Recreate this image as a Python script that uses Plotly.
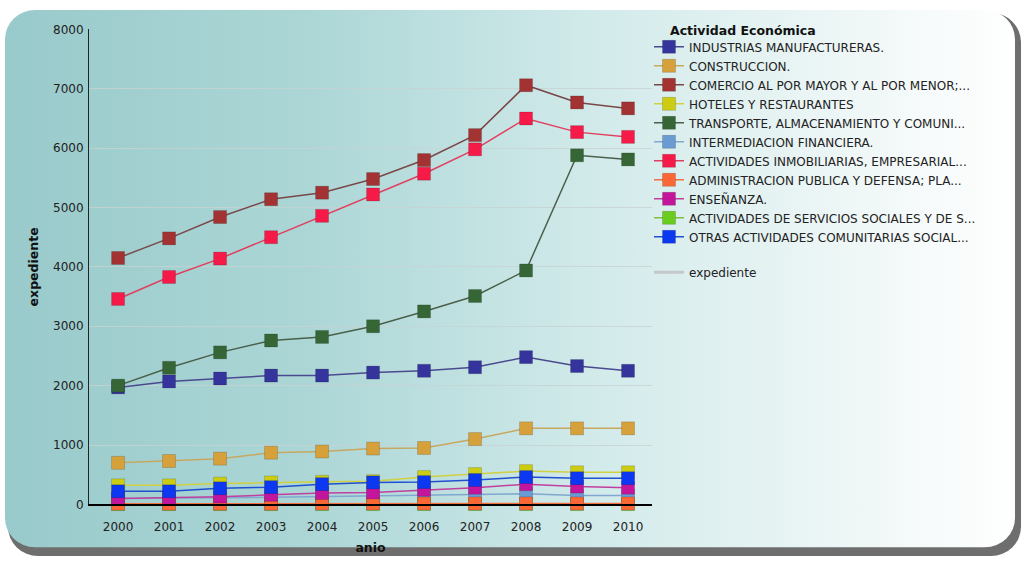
import base64
import plotly.graph_objects as go

years = [2000, 2001, 2002, 2003, 2004, 2005, 2006, 2007, 2008, 2009, 2010]

industrias = [1970, 2070, 2120, 2170, 2170, 2220, 2250, 2310, 2480, 2330, 2250]
construccion = [700, 730, 770, 870, 890, 940, 950, 1100, 1280, 1280, 1280]
comercio = [4150, 4480, 4840, 5140, 5250, 5480, 5800, 6220, 7060, 6770, 6670]
hoteles = [320, 320, 350, 370, 380, 390, 460, 510, 560, 540, 540]
transporte = [2000, 2300, 2560, 2760, 2820, 3000, 3250, 3510, 3940, 5880, 5810]
intermediacion = [100, 100, 110, 120, 130, 140, 150, 165, 180, 150, 150]
inmobiliarias = [3460, 3830, 4140, 4500, 4860, 5220, 5570, 5980, 6500, 6270, 6190]
administracion = [10, 10, 10, 10, 15, 15, 15, 15, 15, 15, 15]
ensenanza = [100, 110, 130, 160, 190, 200, 245, 280, 340, 300, 280]
servicios = [5, 5, 5, 5, 5, 5, 5, 5, 5, 5, 5]
otras = [220, 220, 270, 290, 340, 370, 375, 410, 460, 440, 440]

names = [
    "INDUSTRIAS MANUFACTURERAS.",
    "CONSTRUCCION.",
    "COMERCIO AL POR MAYOR Y AL POR MENOR;...",
    "HOTELES Y RESTAURANTES",
    "TRANSPORTE, ALMACENAMIENTO Y COMUNI...",
    "INTERMEDIACION FINANCIERA.",
    "ACTIVIDADES INMOBILIARIAS, EMPRESARIAL...",
    "ADMINISTRACION PUBLICA Y DEFENSA; PLA...",
    "ENSEÑANZA.",
    "ACTIVIDADES DE SERVICIOS SOCIALES Y DE S...",
    "OTRAS ACTIVIDADES COMUNITARIAS SOCIAL...",
]
series = [industrias, construccion, comercio, hoteles, transporte, intermediacion,
          inmobiliarias, administracion, ensenanza, servicios, otras]
colors = ["#34349c", "#d6a03a", "#a33232", "#cccc10", "#366636", "#6a9bd2",
          "#f51a48", "#fb6836", "#c4169c", "#6acc1e", "#0c38f2"]
lines = ["#4a4a90", "#c8a860", "#7a4848", "#d0d040", "#4a604a", "#80a8d0",
         "#e04060", "#f07040", "#c040a0", "#80c040", "#2050d0"]

# drawing order (servicios drawn before administracion so it stays hidden beneath)
draw_order = [0, 1, 2, 3, 4, 5, 6, 9, 7, 8, 10]

fig = go.Figure()
for i in draw_order:
    fig.add_trace(go.Scatter(
        x=years, y=series[i], name=names[i], mode="lines+markers",
        legendrank=i + 1,
        line=dict(color=lines[i], width=1.5),
        marker=dict(symbol="square", size=13, color=colors[i],
                    line=dict(color="rgba(0,0,0,0.15)", width=1)),
        cliponaxis=False,
    ))

fig.add_trace(go.Scatter(
    x=[None], y=[None], name="expediente", mode="lines",
    line=dict(color="#c4c8c8", width=3), legend="legend2",
))

svg = """<svg xmlns='http://www.w3.org/2000/svg' width='1022' height='565' viewBox='0 0 1022 565'>
<defs><linearGradient id='g' x1='0' y1='0' x2='1' y2='0'>
<stop offset='0' stop-color='#99cacb'/>
<stop offset='0.3' stop-color='#acd6d6'/>
<stop offset='0.6' stop-color='#d4ebeb'/>
<stop offset='0.85' stop-color='#f0f7f7'/>
<stop offset='1' stop-color='#ffffff'/>
</linearGradient></defs>
<rect x='0' y='0' width='1022' height='565' fill='#ffffff'/>
<rect x='8' y='6' width='1013' height='557' rx='30' ry='30' fill='#6e6e6e'/>
<rect x='5' y='3' width='1010' height='551' rx='30' ry='30' fill='url(#g)'/>
</svg>"""
src = "data:image/svg+xml;base64," + base64.b64encode(svg.encode()).decode()

W, H = 1022, 565
FONT = "DejaVu Sans, Verdana, sans-serif"
fig.update_layout(
    width=W, height=H,
    margin=dict(l=0, r=0, t=0, b=0),
    paper_bgcolor="white",
    plot_bgcolor="rgba(0,0,0,0)",
    font=dict(family=FONT, size=12, color="#222222"),
    images=[dict(source=src, xref="paper", yref="paper", x=0, y=1, sizex=1, sizey=1,
                 xanchor="left", yanchor="top", sizing="stretch", layer="below")],
    xaxis=dict(
        domain=[89 / W, 652 / W], range=[1999.43, 2010.47],
        tickmode="array", tickvals=years, ticktext=[str(y) for y in years],
        showgrid=False, zeroline=False, showline=True, linecolor="#000000", linewidth=2,
        ticks="", ticklabelstandoff=10, tickfont=dict(size=12, color="#222222"),
        title=dict(text="<b>anio</b>", font=dict(size=12.5, color="#111111"), standoff=10),
    ),
    yaxis=dict(
        domain=[(H - 510) / H, (H - 23) / H], range=[0, 8000],
        tickvals=[0, 1000, 2000, 3000, 4000, 5000, 6000, 7000, 8000],
        showgrid=True, gridcolor="rgba(200,210,210,0.8)", gridwidth=1,
        zeroline=False, showline=True, linecolor="#222222", linewidth=1,
        ticks="", ticklabelstandoff=2, tickfont=dict(size=12, color="#222222"),
        title=dict(text="<b>expediente</b>", font=dict(size=12.5, color="#111111"), standoff=11),
    ),
    legend=dict(
        x=649 / W, y=1 - 26 / H, xanchor="left", yanchor="top",
        bgcolor="rgba(0,0,0,0)", borderwidth=0,
        font=dict(size=12, color="#222222"), tracegroupgap=0,
    ),
    legend2=dict(
        x=649 / W, y=1 - 257 / H, xanchor="left", yanchor="top",
        bgcolor="rgba(0,0,0,0)", borderwidth=0,
        font=dict(size=12, color="#222222"),
    ),
    annotations=[dict(
        text="<b>Actividad Económica</b>", xref="paper", yref="paper",
        x=668 / W, y=1 - 24 / H, xanchor="left", yanchor="middle", showarrow=False,
        font=dict(size=12.5, color="#111111"),
    )],
    showlegend=True,
)

fig.write_html("out.html")
